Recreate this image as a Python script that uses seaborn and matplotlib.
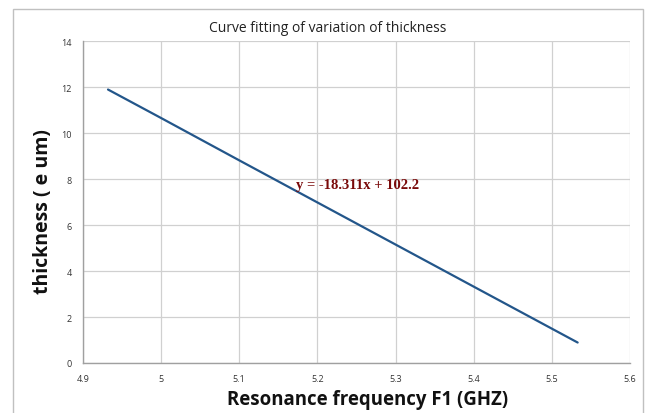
import matplotlib
matplotlib.use("Agg")
import matplotlib.pyplot as plt
import seaborn as sns
import pandas as pd
from matplotlib.patches import Rectangle

# Data
freq_ghz = [4.932, 5.0, 5.1, 5.2, 5.3, 5.4, 5.533]
thickness = [11.89, 10.65, 8.81, 6.98, 5.15, 3.32, 0.89]
x_ticks = [4.9, 5.0, 5.1, 5.2, 5.3, 5.4, 5.5, 5.6]
x_tick_labels = ["4.9", "5", "5.1", "5.2", "5.3", "5.4", "5.5", "5.6"]
y_ticks = [0, 2, 4, 6, 8, 10, 12, 14]
title = "Curve fitting of variation of thickness"
equation = "y = -18.311x + 102.2"

df = pd.DataFrame({"freq": freq_ghz, "thick": thickness})

sns.set_style("white")
plt.rcParams["font.family"] = ["Open Sans", "DejaVu Sans"]

L, R, T, B = 83, 630, 42, 364
fig = plt.figure(figsize=(6.48, 4.14), dpi=100)
ax = fig.add_axes([L/648, 1-B/414, (R-L)/648, (B-T)/414])

sns.lineplot(data=df, x="freq", y="thick", ax=ax, color="#23568a", linewidth=1.6)

ax.set_xlim(4.9, 5.6)
ax.set_ylim(0, 14)
ax.set_xticks(x_ticks)
ax.set_xticklabels(x_tick_labels)
ax.set_yticks(y_ticks)
ax.tick_params(axis="x", labelsize=6.5, length=0, pad=8, colors="#333333")
ax.tick_params(axis="y", labelsize=6.5, length=0, pad=8, colors="#333333")
ax.grid(True, color="#d0d0d0", linewidth=0.9)
ax.set_axisbelow(True)
for s in ["top", "right"]:
    ax.spines[s].set_visible(False)
for s in ["bottom", "left"]:
    ax.spines[s].set_color("#a0a0a0")
    ax.spines[s].set_linewidth(1.0)

ax.text((328-L)/(R-L), 1 + (B-T-(28-T))/(B-T) - 1 + 0, "", transform=ax.transAxes)
fig.text(328/648, 1-28/414, title, fontsize=10, color="#222222",
         ha="center", va="center")
ax.set_xlabel("Resonance frequency F1 (GHZ)", fontsize=13.4, fontweight="bold",
              color="#111111")
ax.xaxis.set_label_coords((368-L)/(R-L), -(400-B)/(B-T))
ax.xaxis.label.set_va("center")
ax.set_ylabel("thickness ( e um)", fontsize=14, fontweight="bold",
              color="#111111")
ax.yaxis.set_label_coords(-(L-43)/(R-L), (B-212)/(B-T))
ax.yaxis.label.set_va("center")

ax.text(5.172, 7.75, equation, fontsize=10.5, fontweight="bold", color="#7a0a0a",
        family="Liberation Serif", va="center", ha="left")

# Outer chart border
fig.patches.append(Rectangle((13/648, -0.01), (643-13)/648, 1-10/414 + 0.01,
                             transform=fig.transFigure, fill=False,
                             edgecolor="#c0c0c0", linewidth=1.0))

fig.savefig("out.png", dpi=100)
